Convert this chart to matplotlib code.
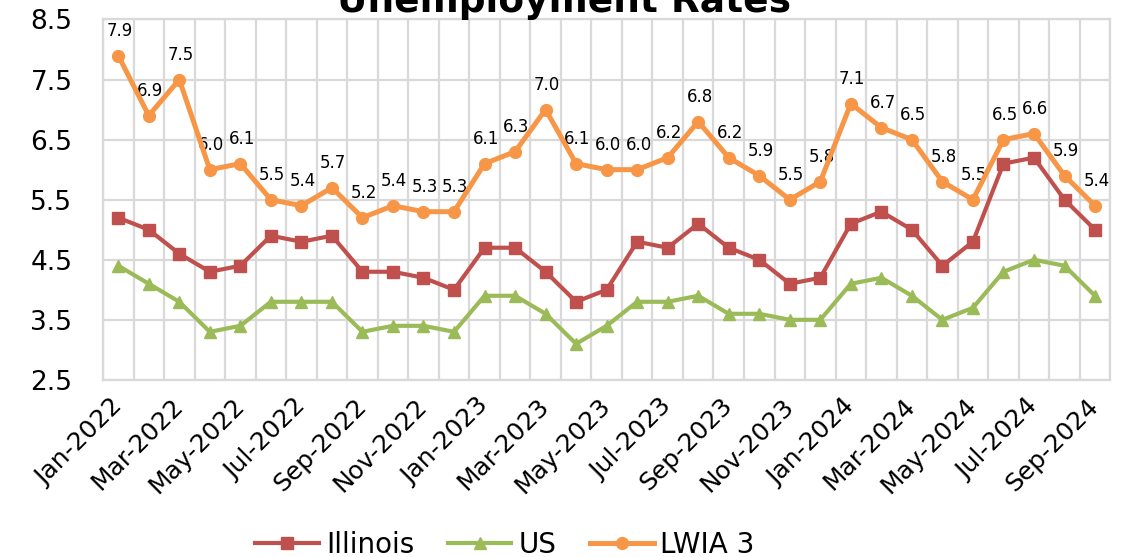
import matplotlib
matplotlib.use("Agg")
import matplotlib.pyplot as plt
import numpy as np

months = ["Jan", "Feb", "Mar", "Apr", "May", "Jun",
          "Jul", "Aug", "Sep", "Oct", "Nov", "Dec"]
periods = [f"{m}-{y}" for y in (2022, 2023, 2024) for m in months][:33]

illinois = [5.2, 5.0, 4.6, 4.3, 4.4, 4.9, 4.8, 4.9, 4.3, 4.3, 4.2, 4.0,
            4.7, 4.7, 4.3, 3.8, 4.0, 4.8, 4.7, 5.1, 4.7, 4.5, 4.1, 4.2,
            5.1, 5.3, 5.0, 4.4, 4.8, 6.1, 6.2, 5.5, 5.0]
us = [4.4, 4.1, 3.8, 3.3, 3.4, 3.8, 3.8, 3.8, 3.3, 3.4, 3.4, 3.3,
      3.9, 3.9, 3.6, 3.1, 3.4, 3.8, 3.8, 3.9, 3.6, 3.6, 3.5, 3.5,
      4.1, 4.2, 3.9, 3.5, 3.7, 4.3, 4.5, 4.4, 3.9]
lwia3 = [7.9, 6.9, 7.5, 6.0, 6.1, 5.5, 5.4, 5.7, 5.2, 5.4, 5.3, 5.3,
         6.1, 6.3, 7.0, 6.1, 6.0, 6.0, 6.2, 6.8, 6.2, 5.9, 5.5, 5.8,
         7.1, 6.7, 6.5, 5.8, 5.5, 6.5, 6.6, 5.9, 5.4]

plt.rcParams['font.family'] = ['DejaVu Sans']

fig = plt.figure(figsize=(11.28, 5.57), dpi=100)
ax = fig.add_axes([0.0913, 0.318, 0.893, 0.647])

x = np.arange(len(periods))
ax.plot(x, illinois, color='#C0504D', lw=3, marker='s', ms=8, label='Illinois', zorder=3)
ax.plot(x, us, color='#9BBB59', lw=3, marker='^', ms=8, label='US', zorder=3)
ax.plot(x, lwia3, color='#F79646', lw=3.6, marker='o', ms=8.5, label='LWIA 3', zorder=4)

for xi, v in zip(x, lwia3):
    ax.annotate(f"{v:.1f}", (xi, v), xytext=(1, 11), textcoords='offset points',
                ha='center', va='bottom', fontsize=12)

ax.set_xlim(-0.5, len(periods) - 0.5)
ax.set_ylim(2.5, 8.5)
ax.set_yticks(np.arange(2.5, 8.6, 1.0))
ax.set_yticklabels([f"{t:.1f}" for t in np.arange(2.5, 8.6, 1.0)], fontsize=19)
ax.set_xticks(x[::2])
ax.set_xticklabels(periods[::2], rotation=45, ha='right', va='center',
                   rotation_mode='anchor', fontsize=18)
ax.set_xticks(np.arange(-0.5, len(periods), 1.0), minor=True)
ax.tick_params(axis='both', which='both', length=0)
ax.tick_params(axis='x', pad=16)
ax.tick_params(axis='y', pad=22)
ax.grid(True, which='minor', axis='x', color='#D9D9D9', lw=1.6)
ax.grid(True, which='major', axis='y', color='#D9D9D9', lw=1.6)
ax.set_axisbelow(True)
for s in ax.spines.values():
    s.set_color('#D9D9D9')
    s.set_linewidth(1.6)

fig.text(0.5, 1 - 12 / 557, "Unemployment Rates", ha='center', va='baseline',
         fontsize=27, fontweight='bold')

fig.legend(loc='center', bbox_to_anchor=(505 / 1128, 0.022), ncol=3, frameon=False,
           fontsize=20, handlelength=2.3, handletextpad=0.25, columnspacing=1.2)

fig.savefig("out.png", dpi=100)
